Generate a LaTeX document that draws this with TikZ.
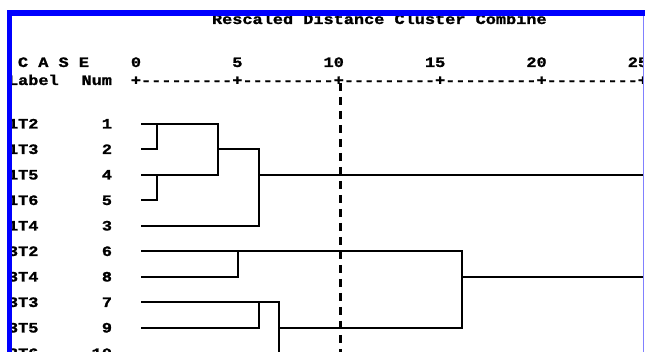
\documentclass[tikz,border=0pt]{standalone}
\usepackage{fontspec}
\usepackage{graphicx}
\newfontfamily\spssfont[BoldFeatures={FakeBold=1.2}]{Liberation Mono}
% Courier-like capitals are a bit lower than Liberation Mono's
\newcommand{\vsq}[1]{\scalebox{1}[0.85]{#1}}
\definecolor{frameblue}{RGB}{0,0,255}
\definecolor{framelite}{RGB}{128,128,255}
\tikzset{
  txt/.style={font=\spssfont\bfseries\fontsize{16.9}{18}\selectfont, inner sep=0pt, outer sep=0pt},
  tree/.style={line width=2pt, line cap=rect},
  outtree/.style={line width=1.5pt},
  cutline/.style={line width=3pt, dash pattern=on 8pt off 6pt},
}
\begin{document}
\begin{tikzpicture}[x=1pt,y=-1pt]
\fill[white] (0,0) rectangle (645,352);
\useasboundingbox (0,0) rectangle (645,352);

\begin{scope}
\clip (12,16) rectangle (643,352);

% headings
\node[txt, anchor=base west] (title) at (212,24) {\vsq{Rescaled Distance Cluster Combine}};
\node[txt, anchor=base west] (case) at (18,67) {\vsq{C A S E}};
\node[txt, anchor=base west] (label) at (8,85) {\vsq{Label}};
\node[txt, anchor=base east] (numhead) at (112,85) {\vsq{Num}};

% distance scale
\node[txt, anchor=base west] (s0)  at (130.9,67) {\vsq{0}};
\node[txt, anchor=base west] (s5)  at (232.3,67) {\vsq{5}};
\node[txt, anchor=base west] (s10) at (323.6,67) {\vsq{10}};
\node[txt, anchor=base west] (s15) at (425.0,67) {\vsq{15}};
\node[txt, anchor=base west] (s20) at (526.4,67) {\vsq{20}};
\node[txt, anchor=base west] (s25) at (627.8,67) {\vsq{25}};
\node[txt, anchor=base west] (axis) at (130.9,85)
  {\vsq{+---------+---------+---------+---------+---------+}};

% cases
\foreach \lab/\num [count=\k from 0] in
  {1T2/1,1T3/2,1T5/4,1T6/5,1T4/3,3T2/6,3T4/8,3T3/7,3T5/9,3T6/10} {
  \pgfmathsetmacro\yy{124+25.5*\k}
  \node[txt, anchor=base west] (lab\k) at (8,\yy+4.5) {\vsq{\lab}};
  \node[txt, anchor=base east] (num\k) at (112,\yy+4.5) {\vsq{\num}};
  \coordinate (leaf\k) at (142,\yy);
}

\coordinate (edge) at (645,0);
\coordinate (bottom) at (0,362);

% merge points
\coordinate (m12) at (157,124);
\coordinate (m45) at (157,175);
\coordinate (mA)  at (218,124);
\coordinate (mB)  at (259,149.5);
\coordinate (m68) at (238,251.5);
\coordinate (m79) at (258.7,302.5);
\coordinate (mC)  at (279,302.5);
\coordinate (mD)  at (462,251.5);

% cut level
\coordinate (cut) at (340,83);
\draw[cutline] (cut) -- (cut |- bottom);

% first group
\draw[tree] (leaf0) -- (mA);
\draw[tree] (leaf1) -| (m12);
\draw[tree] (leaf2) -| (mA);
\draw[tree] (leaf3) -| (m45);
\draw[tree] (mA |- leaf1) -- (mB);
\draw[tree] (leaf4) -| (mB);
\draw[outtree] (mB |- leaf2) -- (leaf2 -| edge);

% second group
\draw[tree] (leaf5) -- (mD);
\draw[tree] (leaf6) -| (m68);
\draw[tree] (leaf7) -- (mC);
\draw[tree] (leaf8) -| (m79);
\draw[tree] (mC) -- (mC |- bottom);
\draw[tree] (mC |- leaf8) -| (mD);
\draw[outtree] (mD |- leaf6) -- (leaf6 -| edge);
\end{scope}

% window frame
\fill[frameblue] (7,10) rectangle (645,16);
\fill[frameblue] (7,10) rectangle (12,352);
\draw[framelite, line width=1pt] (643.5,16) -- (643.5,352);
\end{tikzpicture}
\end{document}
